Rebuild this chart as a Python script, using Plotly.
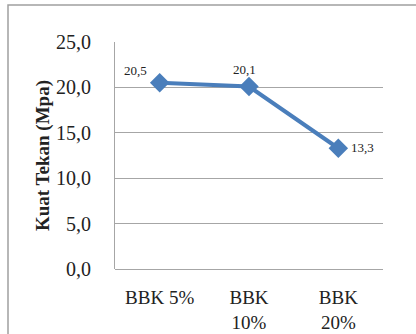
import plotly.graph_objects as go

categories = ["BBK 5%", "BBK<br>10%", "BBK<br>20%"]
values = [20.5, 20.1, 13.3]
value_labels = ["20,5", "20,1", "13,3"]
label_shifts = [(-24, 12), (-5, 17), (24, 1)]

W, H = 416, 334
L, R, T, B = 115, 33, 42, 65
pw, ph = W - L - R, H - T - B

fig = go.Figure()
fig.add_trace(go.Scatter(
    x=categories, y=values, mode="lines+markers",
    line=dict(color="#4A7EBB", width=4),
    marker=dict(symbol="diamond", size=15, color="#4A7EBB"),
    cliponaxis=False, showlegend=False,
))

for cat, val, lab, (dx, dy) in zip(categories, values, value_labels, label_shifts):
    fig.add_annotation(x=cat, y=val, text=lab, showarrow=False,
                       xshift=dx, yshift=dy,
                       font=dict(family="Liberation Serif", size=13, color="#222"))

def px_x(x):
    return (x - L) / pw

def px_y(y):
    return (H - B - y) / ph

fig.add_shape(type="rect", xref="paper", yref="paper",
              x0=px_x(8), x1=px_x(430), y0=px_y(5), y1=px_y(350),
              line=dict(color="#a0a0a0", width=1.5), layer="below")

fig.update_layout(
    width=W, height=H,
    margin=dict(l=L, r=R, t=T, b=B),
    paper_bgcolor="white", plot_bgcolor="white",
    separators=", ",
    font=dict(family="Liberation Serif", color="#222"),
    xaxis=dict(showgrid=False, showline=False, ticks="outside", ticklen=11,
               tickcolor="rgba(0,0,0,0)", automargin=False,
               tickfont=dict(size=19, color="#222"), range=[-0.5, 2.5]),
    yaxis=dict(range=[0, 25], dtick=5, tickformat=".1f", automargin=False,
               showgrid=True, gridcolor="#a6a6a6", gridwidth=1.2,
               zeroline=True, zerolinecolor="#a6a6a6", zerolinewidth=1.2,
               showline=True, linecolor="#a6a6a6", linewidth=1.2,
               ticks="outside", ticklen=19, tickcolor="rgba(0,0,0,0)",
               tickfont=dict(size=20, color="#222"),
               title=dict(text="<b>Kuat Tekan (Mpa)</b>",
                          font=dict(size=19, color="#222"), standoff=1)),
)

fig.write_html("out.html")
